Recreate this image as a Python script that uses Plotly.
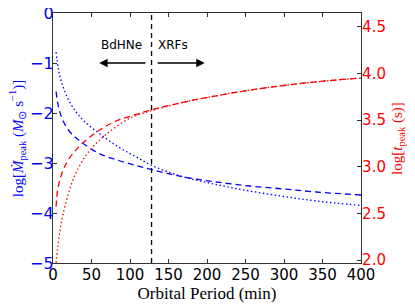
import plotly.graph_objects as go

# Orbital period samples (min)
period_blue_dash = [4, 6, 8, 12, 20, 30, 40, 60, 85, 108, 130, 170, 212, 255, 300, 342, 400]
mdot_dash = [-1.57, -1.79, -1.93, -2.12, -2.34, -2.50, -2.62, -2.81, -2.95, -3.05, -3.14, -3.28, -3.38, -3.46, -3.52, -3.58, -3.64]

period_blue_dot = [4, 7, 11, 19, 30, 41, 62, 85, 107, 130, 170, 212, 255, 300, 342, 400]
mdot_dot = [-0.78, -1.12, -1.38, -1.70, -1.98, -2.17, -2.43, -2.68, -2.87, -3.06, -3.28, -3.43, -3.56, -3.67, -3.76, -3.85]

period_red_dash = [4, 6, 10, 15, 22, 30, 38, 60, 82, 104, 128, 169, 212, 255, 300, 342, 400]
tpeak_dash = [2.57, 2.75, 2.89, 3.00, 3.10, 3.18, 3.25, 3.39, 3.49, 3.55, 3.61, 3.69, 3.76, 3.82, 3.87, 3.91, 3.95]

period_red_dot = [4, 6, 9, 13, 20, 28, 41, 54, 64, 74, 100, 128, 169, 212, 255, 300, 342, 400]
tpeak_dot = [1.97, 2.12, 2.31, 2.49, 2.71, 2.90, 3.10, 3.23, 3.31, 3.38, 3.52, 3.60, 3.69, 3.76, 3.82, 3.87, 3.91, 3.95]

boundary_period = 128
left_ticks = [0, -1, -2, -3, -4, -5]
left_tick_text = ["0", "\u22121", "\u22122", "\u22123", "\u22124", "\u22125"]
right_ticks = [2.0, 2.5, 3.0, 3.5, 4.0, 4.5]
x_ticks = [0, 50, 100, 150, 200, 250, 300, 350, 400]

BLUE = "#0000ff"
RED = "#ff0000"
DASH = "6px,4px"
DOT = "1.5px,2.5px"

fig = go.Figure()
fig.add_trace(go.Scatter(x=period_blue_dash, y=mdot_dash, mode="lines",
                         line=dict(color=BLUE, width=1.3, dash=DASH, shape="spline"), yaxis="y"))
fig.add_trace(go.Scatter(x=period_blue_dot, y=mdot_dot, mode="lines",
                         line=dict(color=BLUE, width=1.3, dash=DOT, shape="spline"), yaxis="y"))
fig.add_trace(go.Scatter(x=period_red_dash, y=tpeak_dash, mode="lines",
                         line=dict(color=RED, width=1.3, dash=DASH, shape="spline"), yaxis="y2"))
fig.add_trace(go.Scatter(x=period_red_dot, y=tpeak_dot, mode="lines",
                         line=dict(color=RED, width=1.3, dash=DOT, shape="spline"), yaxis="y2"))

fig.add_shape(type="line", xref="x", yref="paper", x0=boundary_period, x1=boundary_period,
              y0=0, y1=1, line=dict(color="black", width=1.3, dash="5px,4px"))

fig.add_annotation(x=60, y=-1.0, ax=122, ay=-1.0, xref="x", yref="y", axref="x", ayref="y",
                   text="", showarrow=True, arrowhead=2, arrowsize=1.3, arrowwidth=1.3, arrowcolor="black")
fig.add_annotation(x=197, y=-1.0, ax=134, ay=-1.0, xref="x", yref="y", axref="x", ayref="y",
                   text="", showarrow=True, arrowhead=2, arrowsize=1.3, arrowwidth=1.3, arrowcolor="black")
fig.add_annotation(x=89, y=-0.63, xref="x", yref="y", text="BdHNe", showarrow=False,
                   font=dict(family="DejaVu Sans", size=12, color="black"))
fig.add_annotation(x=156, y=-0.63, xref="x", yref="y", text="XRFs", showarrow=False,
                   font=dict(family="DejaVu Sans", size=12, color="black"))

# axis titles as annotations for precise placement
fig.add_annotation(x=-0.116, y=0.5, xref="paper", yref="paper", xanchor="center", yanchor="middle",
                   textangle=-90, showarrow=False,
                   text="log[<i>\u1E40</i><sub>peak</sub> (<i>M</i><sub>\u2299</sub> s<sup>\u22121</sup>)]",
                   font=dict(family="Liberation Serif", size=15, color=BLUE))
fig.add_annotation(x=1.12, y=0.5, xref="paper", yref="paper", xanchor="center", yanchor="middle",
                   textangle=-90, showarrow=False,
                   text="log[<i>t</i><sub>peak</sub> (s)]",
                   font=dict(family="Liberation Serif", size=15, color=RED))

fig.update_layout(
    width=407, height=297,
    margin=dict(l=45, r=54, t=5, b=42),
    paper_bgcolor="white", plot_bgcolor="white",
    showlegend=False,
    xaxis=dict(range=[0, 400], tickvals=x_ticks, ticks="inside", ticklen=4, tickcolor="#333",
               showline=True, linecolor="#333", linewidth=1.2, mirror="ticks", showgrid=False,
               zeroline=False, automargin=False, ticklabelstandoff=-2, ticklabeloverflow="allow",
               tickfont=dict(family="DejaVu Sans", size=15, color="black"),
               title=dict(text="Orbital Period (min)", standoff=1,
                          font=dict(family="Liberation Serif", size=17, color="black"))),
    yaxis=dict(range=[-5, 0], tickvals=left_ticks, ticktext=left_tick_text, ticks="inside",
               ticklen=4, tickcolor="#333", showline=True, linecolor="#333", linewidth=1.2,
               showgrid=False, zeroline=False, automargin=False, ticklabelstandoff=-5,
               ticklabeloverflow="allow",
               tickfont=dict(family="DejaVu Sans", size=16, color=BLUE)),
    yaxis2=dict(range=[1.968, 4.647], tickvals=right_ticks, tickformat=".1f", overlaying="y",
                side="right", ticks="inside", ticklen=4, tickcolor="#333", showline=True,
                linecolor="#333", linewidth=1.2, showgrid=False, zeroline=False, automargin=False,
                ticklabelstandoff=-3, ticklabeloverflow="allow",
                tickfont=dict(family="DejaVu Sans", size=15, color=RED)),
)

fig.write_html("out.html")
